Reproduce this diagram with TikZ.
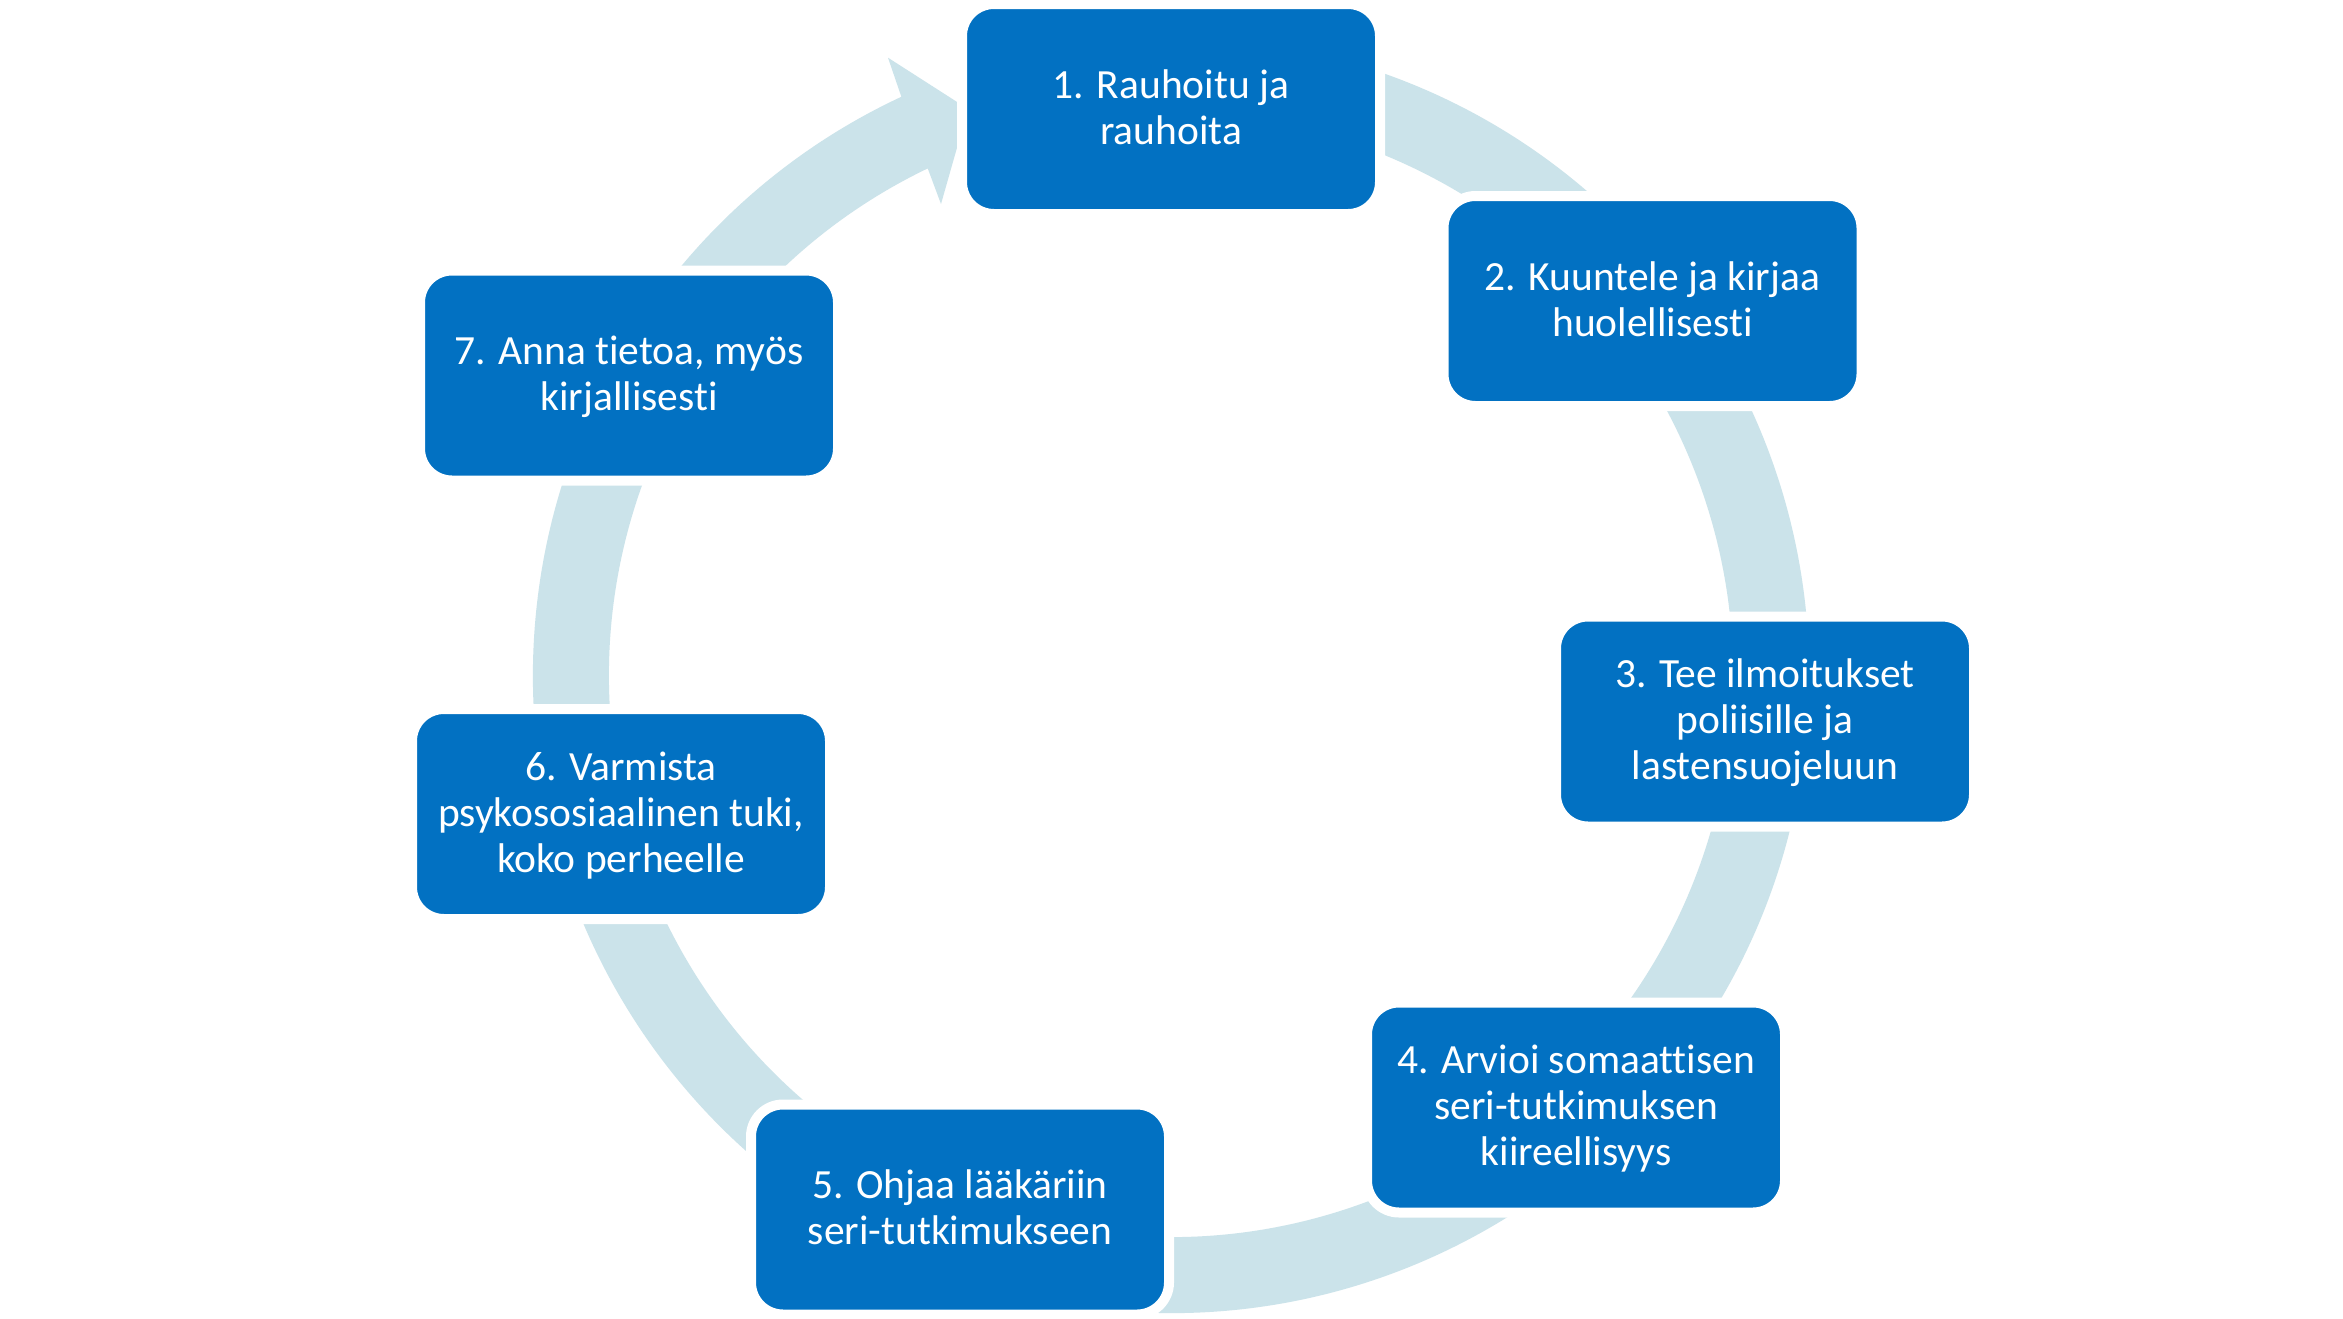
\documentclass[tikz,border=0pt]{standalone}
\usepackage{fontspec}
\setmainfont[Ligatures=NoCommon,RawFeature=-liga]{Carlito}
\definecolor{boxblue}{RGB}{2,113,194}
\definecolor{ringblue}{RGB}{203,227,234}
\newcommand\boxfont{\fontsize{41.5}{46}\selectfont}
\newcommand\ts{\rule[-0.25em]{0pt}{1.09em}}
\tikzset{
  box/.style={rectangle, rounded corners=32pt, fill=boxblue, draw=white,
    line width=10pt, minimum width=418pt, minimum height=210pt, inner sep=0pt,
    text=white, font=\boxfont, align=center},
  ring/.style={fill=ringblue, draw=none}
}
\begin{document}
\begin{tikzpicture}[x=1pt,y=-1pt]
\useasboundingbox[fill=white] (0,0) rectangle (2343,1318);
\coordinate (C) at (1171,675);
\coordinate (barbA) at (888,57.7);
\coordinate (tip) at (968,109);
\coordinate (barbB) at (941,204);
% circular arrow
\fill[ring] ([shift={(-80:638)}]C) arc[start angle=-80, end angle=245, radius=638]
  -- (barbA) -- (tip) -- (barbB)
  -- ([shift={(244.35:562)}]C) arc[start angle=244.35, end angle=-80, radius=562] -- cycle;
% boxes
\node[box] (n1) at (1171,109) {\ts 1. Rauhoitu ja\\\ts rauhoita};
\node[box] (n2) at (1652.5,301) {\ts 2. Kuuntele ja kirjaa\\\ts huolellisesti};
\node[box] (n3) at (1765,721.5) {\ts 3. Tee ilmoitukset\\\ts poliisille ja\\\ts lastensuojeluun};
\node[box] (n4) at (1576,1107.5) {\ts 4. Arvioi somaattisen\\\ts seri-tutkimuksen\\\ts kiireellisyys};
\node[box] (n5) at (960,1209.5) {\ts 5. Ohjaa lääkäriin\\\ts seri-tutkimukseen};
\node[box] (n6) at (621,814) {\ts 6. Varmista\\\ts psykososiaalinen tuki,\\\ts koko perheelle};
\node[box] (n7) at (629,375.5) {\ts 7. Anna tietoa, myös\\\ts kirjallisesti};
\end{tikzpicture}
\end{document}
